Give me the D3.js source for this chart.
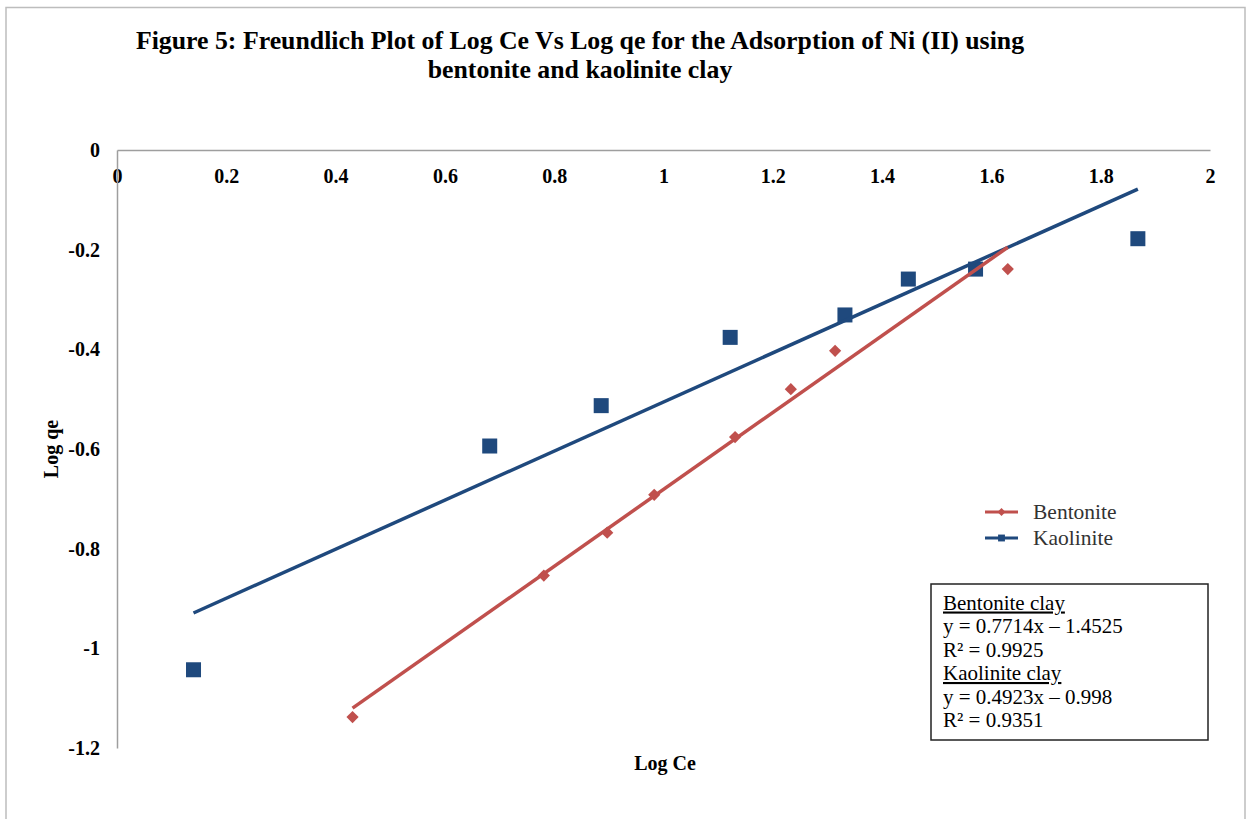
<!DOCTYPE html>
<html>
<head>
<meta charset="utf-8">
<script src="https://d3js.org/d3.v7.min.js"></script>
<style>
  html, body { margin: 0; padding: 0; background: #fff; }
  svg { display: block; }
  svg text { font-family: "Liberation Serif", "Times New Roman", serif; }
</style>
</head>
<body>
<div id="chart"></div>
<script>
// Data
const bentoniteX = [0.431, 0.781, 0.897, 0.983, 1.131, 1.233, 1.314, 1.630];
const bentoniteY = [-1.138, -0.854, -0.768, -0.692, -0.576, -0.480, -0.403, -0.239];
const kaoliniteX = [0.140, 0.682, 0.886, 1.122, 1.332, 1.448, 1.571, 1.868];
const kaoliniteY = [-1.043, -0.594, -0.513, -0.376, -0.331, -0.259, -0.239, -0.178];

// Trendline coefficients (slope, intercept)
const bentoniteFit = [0.7714, -1.4525];
const kaoliniteFit = [0.4923, -0.998];

const xTicks = [0, 0.2, 0.4, 0.6, 0.8, 1, 1.2, 1.4, 1.6, 1.8, 2];
const yTicks = [0, -0.2, -0.4, -0.6, -0.8, -1, -1.2];

const titleLines = [
    'Figure 5: Freundlich Plot of Log Ce Vs Log qe for the Adsorption of Ni (II) using',
    'bentonite and kaolinite clay'
];
const legendNames = ['Bentonite', 'Kaolinite'];
const boxLines = [
    { text: 'Bentonite clay', underline: true },
    { text: 'y = 0.7714x \u2013 1.4525' },
    { text: 'R\u00b2 = 0.9925' },
    { text: 'Kaolinite clay', underline: true },
    { text: 'y = 0.4923x \u2013 0.998' },
    { text: 'R\u00b2 = 0.9351' }
];

const RED = '#C0504D';
const BLUE = '#1F497D';

const width = 1247, height = 819;

const svg = d3.select('#chart').append('svg')
    .attr('width', width)
    .attr('height', height);

// outer chart frame
svg.append('rect')
    .attr('x', 6).attr('y', 7.5)
    .attr('width', 1239).attr('height', 830)
    .attr('fill', '#fff')
    .attr('stroke', '#bdbdbd')
    .attr('stroke-width', 1.5);

const x = d3.scaleLinear().domain([0, 2]).range([117, 1210]);
const y = d3.scaleLinear().domain([0, -1.2]).range([150, 748]);

// title
svg.append('g').selectAll('text')
    .data(titleLines)
    .enter()
    .append('text')
    .attr('x', 580)
    .attr('y', (d, i) => 49 + i * 29)
    .attr('text-anchor', 'middle')
    .attr('font-size', '25.8px')
    .attr('font-weight', 'bold')
    .text(d => d);

// axes (no tick marks, Excel style)
const fmt = d => String(d);
const xAxis = svg.append('g')
    .attr('transform', `translate(0,${y(0)})`)
    .call(d3.axisBottom(x).tickValues(xTicks).tickSize(0).tickPadding(19).tickFormat(fmt));
const yAxis = svg.append('g')
    .attr('transform', `translate(${x(0)},0)`)
    .call(d3.axisLeft(y).tickValues(yTicks).tickSize(0).tickPadding(17).tickFormat(fmt));

[xAxis, yAxis].forEach(a => {
    a.attr('font-family', null);
    a.select('.domain').attr('stroke', '#9e9e9e').attr('stroke-width', 1.5);
    a.selectAll('text')
        .attr('font-size', '20px')
        .attr('font-weight', 'bold')
        .attr('fill', '#000');
});

// axis titles
svg.append('text')
    .attr('x', 665).attr('y', 770)
    .attr('text-anchor', 'middle')
    .attr('font-size', '20px')
    .attr('font-weight', 'bold')
    .text('Log Ce');

svg.append('text')
    .attr('transform', 'translate(58,449) rotate(-90)')
    .attr('text-anchor', 'middle')
    .attr('font-size', '20px')
    .attr('font-weight', 'bold')
    .text('Log qe');

const bentonite = bentoniteX.map((v, i) => ({ x: v, y: bentoniteY[i] }));
const kaolinite = kaoliniteX.map((v, i) => ({ x: v, y: kaoliniteY[i] }));

// markers
svg.append('g').selectAll('rect')
    .data(kaolinite)
    .enter()
    .append('rect')
    .attr('x', d => x(d.x) - 7.5)
    .attr('y', d => y(d.y) - 7.5)
    .attr('width', 15).attr('height', 15)
    .attr('fill', BLUE);

const diamond = d3.symbol().type(d3.symbolDiamond2).size(95);
svg.append('g').selectAll('path')
    .data(bentonite)
    .enter()
    .append('path')
    .attr('d', diamond)
    .attr('transform', d => `translate(${x(d.x)},${y(d.y)})`)
    .attr('fill', RED);

// trendlines over the data range
function trend(points, fit) {
    const ext = d3.extent(points, d => d.x);
    return ext.map(v => ({ x: v, y: fit[0] * v + fit[1] }));
}
const line = d3.line().x(d => x(d.x)).y(d => y(d.y));

svg.append('path')
    .attr('d', line(trend(kaolinite, kaoliniteFit)))
    .attr('fill', 'none')
    .attr('stroke', BLUE)
    .attr('stroke-width', 3.5);

svg.append('path')
    .attr('d', line(trend(bentonite, bentoniteFit)))
    .attr('fill', 'none')
    .attr('stroke', RED)
    .attr('stroke-width', 3.5);

// legend
const legend = svg.append('g').attr('transform', 'translate(985,512)');
const legendItem = legend.selectAll('g')
    .data(legendNames)
    .enter()
    .append('g')
    .attr('transform', (d, i) => `translate(0,${i * 26})`);

legendItem.append('line')
    .attr('x1', 0).attr('x2', 33)
    .attr('stroke', (d, i) => i === 0 ? RED : BLUE)
    .attr('stroke-width', 3);

legendItem.append('path')
    .attr('d', (d, i) => i === 0
        ? d3.symbol().type(d3.symbolDiamond2).size(40)()
        : d3.symbol().type(d3.symbolSquare2).size(60)())
    .attr('transform', 'translate(16.5,0)')
    .attr('fill', (d, i) => i === 0 ? RED : BLUE);

legendItem.append('text')
    .attr('x', 48)
    .attr('dy', '0.32em')
    .attr('font-size', '21.5px')
    .attr('fill', '#333')
    .text(d => d);

// equation box
const box = svg.append('g').attr('transform', 'translate(931,584)');
box.append('rect')
    .attr('width', 277).attr('height', 156)
    .attr('fill', '#fff')
    .attr('stroke', '#222')
    .attr('stroke-width', 1.5);

box.selectAll('text')
    .data(boxLines)
    .enter()
    .append('text')
    .attr('x', 12)
    .attr('y', (d, i) => 25.5 + i * 23.5)
    .attr('font-size', '21px')
    .style('text-decoration', d => d.underline ? 'underline' : null)
    .text(d => d.text);
</script>
</body>
</html>
